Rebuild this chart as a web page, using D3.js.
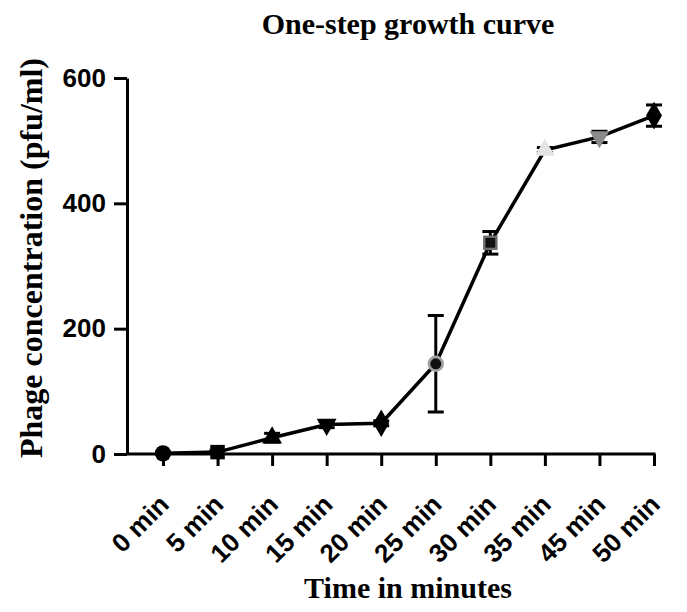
<!DOCTYPE html>
<html>
<head>
<meta charset="utf-8">
<script src="https://cdn.jsdelivr.net/npm/d3@7"></script>
<style>
  body { margin: 0; background: #fff; }
  svg { display: block; }
</style>
</head>
<body>
<svg id="chart" width="687" height="612"></svg>
<script>
// One-step growth curve: phage titre at each sampling time
const categories = ["0 min", "5 min", "10 min", "15 min", "20 min", "25 min", "30 min", "35 min", "45 min", "50 min"];
const means = [1, 3, 26, 47, 49, 144, 337, 485, 506, 540];
const errors = [2, 3, 7, 5, 4, 77, 18, 4, 9, 17];
const yTicks = [0, 200, 400, 600];
// marker shape and fill per time point (Prism-style alternating symbols)
const shapes = ["circle", "square", "triangle", "triangleDown", "diamond", "circle", "square", "triangle", "triangleDown", "diamond"];
const fills = ["#000", "#000", "#000", "#000", "#000", "#a0a0a0", "#6e6e6e", "#e4e4e4", "#8a8a8a", "#000"];

const svg = d3.select("#chart");
const axisLeftX = 127, xStart = 163, xEnd = 654;
const yTop = 78, yBottom = 454;
const serif = "Liberation Serif, Times New Roman, serif";
const sans = "Liberation Sans, Arial, sans-serif";

const x = d3.scalePoint().domain(categories).range([xStart, xEnd]);
const y = d3.scaleLinear().domain([0, 600]).range([yBottom, yTop]);

const data = categories.map((c, i) => ({ c, v: means[i], e: errors[i], shape: shapes[i], fill: fills[i] }));

// title
svg.append("text")
  .attr("x", 408).attr("y", 34)
  .attr("text-anchor", "middle")
  .attr("font-family", serif)
  .attr("font-weight", "bold").attr("font-size", 30)
  .text("One-step growth curve");

// y axis
const yAxis = svg.append("g")
  .attr("transform", `translate(${axisLeftX},0)`)
  .call(d3.axisLeft(y).tickValues(yTicks).tickSize(13).tickPadding(8).tickSizeOuter(0));
yAxis.select(".domain").attr("stroke-width", 3);
yAxis.selectAll(".tick line").attr("stroke-width", 3);
yAxis.selectAll(".tick text")
  .attr("font-family", sans)
  .attr("font-weight", "bold").attr("font-size", 26).attr("fill", "#000");

// x axis
const xAxis = svg.append("g")
  .attr("transform", `translate(0,${yBottom})`)
  .call(d3.axisBottom(x).tickSize(12).tickSizeOuter(0));
xAxis.select(".domain").attr("d", `M${axisLeftX},0H${xEnd + 1.5}`).attr("stroke-width", 3);
xAxis.selectAll(".tick line").attr("stroke-width", 3);
xAxis.selectAll(".tick text")
  .attr("font-family", sans)
  .attr("font-weight", "bold").attr("font-size", 26).attr("fill", "#000")
  .attr("text-anchor", "end")
  .attr("dy", 0)
  .attr("transform", "translate(7,52) rotate(-45)")
  .attr("y", 0).attr("x", 0);

// axis titles
svg.append("text")
  .attr("transform", `translate(42,258) rotate(-90)`)
  .attr("text-anchor", "middle")
  .attr("font-family", serif)
  .attr("font-weight", "bold").attr("font-size", 32)
  .text("Phage concentration (pfu/ml)");
svg.append("text")
  .attr("x", 408).attr("y", 598)
  .attr("text-anchor", "middle")
  .attr("font-family", serif)
  .attr("font-weight", "bold").attr("font-size", 30)
  .text("Time in minutes");

// error bars
const capW = 8;
const eb = svg.append("g").attr("stroke", "#000").attr("stroke-width", 3).attr("fill", "none");
data.forEach(d => {
  const cx = x(d.c);
  const y1 = y(d.v + d.e), y0 = y(Math.max(0, d.v - d.e));
  eb.append("line").attr("x1", cx).attr("x2", cx).attr("y1", y1).attr("y2", y0);
  eb.append("line").attr("x1", cx - capW).attr("x2", cx + capW).attr("y1", y1).attr("y2", y1);
  if (d.v - d.e > 0) eb.append("line").attr("x1", cx - capW).attr("x2", cx + capW).attr("y1", y0).attr("y2", y0);
});

// connecting line
svg.append("path")
  .datum(data)
  .attr("fill", "none").attr("stroke", "#000").attr("stroke-width", 3.5)
  .attr("d", d3.line().x(d => x(d.c)).y(d => y(d.v)));

// markers
const symbolMap = {
  circle: d3.symbolCircle,
  square: d3.symbolSquare,
  triangle: d3.symbolTriangle,
  diamond: d3.symbolDiamond
};
data.forEach(d => {
  const g = svg.append("g").attr("transform", `translate(${x(d.c)},${y(d.v)})`);
  const type = symbolMap[d.shape] || d3.symbolTriangle;
  const rot = d.shape === "triangleDown" ? 180 : 0;
  const size = d.shape === "diamond" ? 220 : (d.shape.startsWith("triangle") ? 170 : 210);
  g.append("path")
    .attr("d", d3.symbol().type(type).size(size)())
    .attr("transform", `rotate(${rot})`)
    .attr("fill", d.fill);
  if (d.fill === "#a0a0a0" || d.fill === "#6e6e6e") {
    g.append("path")
      .attr("d", d3.symbol().type(type).size(size * 0.45)())
      .attr("transform", `rotate(${rot})`)
      .attr("fill", "#111");
  }
});
</script>
</body>
</html>
